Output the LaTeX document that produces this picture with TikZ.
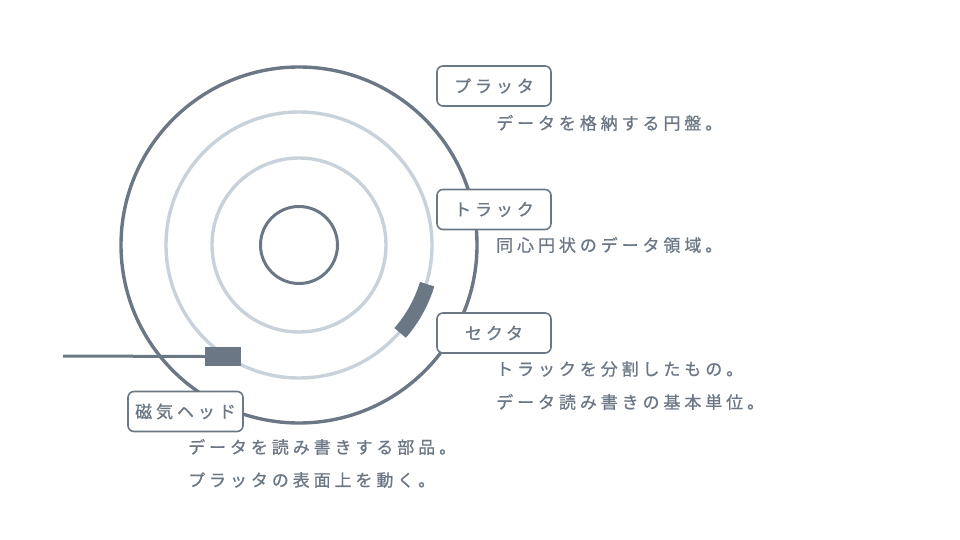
\documentclass[tikz,border=0pt]{standalone}
\usepackage{fontspec}
\setmainfont{Noto Sans CJK JP}
\newfontfamily\jpfont[LetterSpace=23,FakeBold=0.8]{Noto Sans CJK JP}
\definecolor{dark}{HTML}{6B7785}
\definecolor{light}{HTML}{C9D1DB}
\usetikzlibrary{calc}
\tikzset{
  ring/.style={draw=#1, line width=3.4pt},
  lbl/.style={draw=dark, fill=white, line width=1.6pt, rounded corners=6pt, minimum width=114pt, minimum height=40pt, inner sep=0pt, text=dark, font=\jpfont\fontsize{17}{19}\selectfont},
  desc/.style={anchor=west, inner sep=0pt, text=dark, font=\jpfont\fontsize{17}{19}\selectfont},
}
\begin{document}
\begin{tikzpicture}[x=1pt,y=-1pt]
\useasboundingbox (0,0) rectangle (960,540);
\coordinate (c) at (299,245);
\draw[ring=dark] (c) circle[radius=178];
\draw[ring=light] (c) circle[radius=133];
\draw[ring=light] (c) circle[radius=87];
\draw[ring=dark, line width=3pt] (c) circle[radius=38.5];
% sector
\draw[draw=dark, line width=15pt] ($(c)+(17:134)$) arc[start angle=17, end angle=41, radius=134];
% head arm
\coordinate (armend) at (63,356);
\node[fill=dark, minimum width=36pt, minimum height=19pt, inner sep=0pt] (head) at (223,356.5) {};
\draw[dark, line width=3pt] (armend) -- (head.west);
% labels
\node[lbl] (platter) at (494,86) {プラッタ};
\node[desc] (d1) at (496,123) {データを格納する円盤。};
\node[lbl] (track) at (494,209.5) {トラック};
\node[desc] (d2) at (496,245) {同心円状のデータ領域。};
\node[lbl] (sector) at (494,333) {セクタ};
\node[desc] (d3) at (496,369) {トラックを分割したもの。};
\node[desc] (d4) at (496,402) {データ読み書きの基本単位。};
\node[lbl, minimum width=115pt] (headlbl) at (185.5,411.5) {磁気ヘッド};
\node[desc] (d5) at (188,447) {データを読み書きする部品。};
\node[desc] (d6) at (188,480) {プラッタの表面上を動く。};
\end{tikzpicture}
\end{document}
